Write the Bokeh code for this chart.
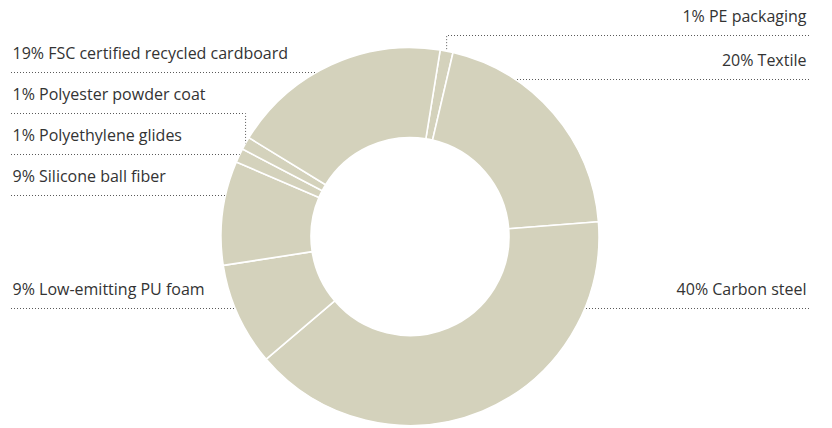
import math
from bokeh.plotting import figure
from bokeh.models import Range1d
from bokeh.core.properties import value
from bokeh.embed import file_html
from bokeh.resources import INLINE

# ---- data (clockwise from the top slice) ----
names = ["PE packaging", "Textile", "Carbon steel", "Low-emitting PU foam",
         "Silicone ball fiber", "Polyethylene glides", "Polyester powder coat",
         "FSC certified recycled cardboard"]
values = [1.1, 20.1, 40.0, 8.8, 8.9, 1.2, 1.1, 18.8]
pct_labels = ["1%", "20%", "40%", "9%", "9%", "1%", "1%", "19%"]

# ---- layout (image pixel coordinates, y downward) ----
W, H = 832, 428
CX, CY = 409.5, 236.0
R_OUT, R_IN = 189.0, 99.0
START_DEG = 9.2
sides = ["right", "right", "right", "left", "left", "left", "left", "left"]
line_y = [35, 79, 308, 308, 195, 154, 113, 72]
LEFT_X0, RIGHT_X1 = 10.5, 808.5
TEXT_LEFT, TEXT_RIGHT = 12.0, 806.0
TEXT_MID_OFFSET = 19.5
FILL = "#d4d2bc"
TEXT_COLOR = "#333333"
LINE_COLOR = "#5a5a5a"


def Y(y):
    return H - y


p = figure(width=W, height=H, output_backend="svg", toolbar_location=None,
           x_range=Range1d(0, W), y_range=Range1d(0, H),
           x_axis_type=None, y_axis_type=None, min_border=0)
p.grid.visible = False
p.outline_line_color = None
p.background_fill_color = "white"

total = sum(values)
starts, ends = [], []
acc = START_DEG
for v in values:
    starts.append(acc)
    acc += v / total * 360.0
    ends.append(acc)

p.annular_wedge(x=[CX] * len(values), y=[Y(CY)] * len(values),
                inner_radius=R_IN, outer_radius=R_OUT,
                start_angle=[math.radians(90 - s) for s in starts],
                end_angle=[math.radians(90 - e) for e in ends],
                direction="clock", fill_color=FILL, line_color="white",
                line_width=1.6)

xs_lines, ys_lines = [], []
for i in range(len(values)):
    L = line_y[i]
    side = sides[i]
    tm = math.radians((starts[i] + ends[i]) / 2)
    mx = CX + R_OUT * math.sin(tm)
    my = CY - R_OUT * math.cos(tm)
    x_edge = RIGHT_X1 if side == "right" else LEFT_X0
    pts = None
    dy = L - CY
    if abs(dy) < R_OUT:
        dx = math.sqrt(R_OUT ** 2 - dy ** 2)
        xi = CX + dx if side == "right" else CX - dx
        ti = math.degrees(math.atan2(xi - CX, -(L - CY))) % 360
        if ti < START_DEG:
            ti += 360
        if starts[i] <= ti <= ends[i]:
            pts = [(x_edge, L), (xi, L)]
    if pts is None:
        pts = [(x_edge, L), (mx, L), (mx, my)]
    xs_lines.append([q[0] for q in pts])
    ys_lines.append([Y(q[1]) for q in pts])

p.multi_line(xs=xs_lines, ys=ys_lines, line_color=LINE_COLOR, line_width=1,
             line_dash="1 2")

for i in range(len(values)):
    txt = f"{pct_labels[i]} {names[i]}"
    right = sides[i] == "right"
    p.text(x=[TEXT_RIGHT if right else TEXT_LEFT], y=[Y(line_y[i] - TEXT_MID_OFFSET)],
           text=[txt], text_align="right" if right else "left",
           text_baseline="middle", text_font=value("Open Sans"),
           text_font_size="16px", text_color=TEXT_COLOR)

open("out.html", "w").write(file_html(p, INLINE))
